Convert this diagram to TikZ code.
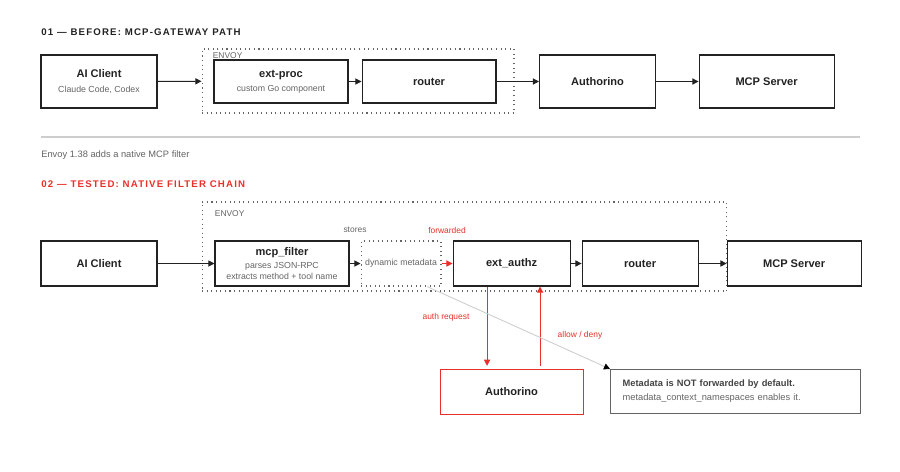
\documentclass[tikz,border=0pt]{standalone}
\usepackage{fontspec}
\setmainfont{Liberation Sans}
\newfontfamily\spacedfont[LetterSpace=12]{Liberation Sans}
\usetikzlibrary{positioning,arrows.meta}
\definecolor{inkdark}{RGB}{34,34,34}
\definecolor{inkgray}{RGB}{100,100,100}
\definecolor{accentred}{RGB}{232,48,42}
\definecolor{ruleg}{RGB}{205,205,205}

\begin{document}
\begin{tikzpicture}[
    x=0.02cm, y=-0.02cm,
    >={Triangle[length=3.5pt,width=3.5pt]},
    every node/.style={font=\fontsize{5}{7}\selectfont, text=inkdark},
    box/.style={
        rectangle, draw=inkdark, line width=0.6pt, align=center, inner sep=2pt
    },
    heading/.style={anchor=west, inner sep=0pt, font=\spacedfont\bfseries\fontsize{5.5}{6.5}\selectfont},
    envoy/.style={rectangle, draw=inkgray, dotted, line width=0.6pt},
    lbl/.style={font=\fontsize{4.8}{6}\selectfont, text=inkgray},
    flow/.style={->, draw=inkdark, line width=0.6pt}
]
\useasboundingbox (0,0) rectangle (900,471);

% --- 01: before
\node[heading] (head1) at (41,32) {01 — BEFORE: MCP-GATEWAY PATH};

\node[envoy, minimum width=6.24cm, minimum height=1.28cm] (envoyA) at (358,81) {};
\node[lbl, anchor=north west, inner sep=0pt] (envoyAlbl) at ([xshift=0.22cm, yshift=-0.07cm]envoyA.north west) {ENVOY};

\node[box, minimum width=2.32cm, minimum height=1.06cm] (aiA) at (99,81.5) {
    \textbf{\fontsize{6.3}{7}\selectfont AI Client}\\[1.5pt]
    {\color{inkgray}Claude Code, Codex}
};
\node[box, minimum width=2.68cm, minimum height=0.86cm] (extproc) at (281,81.5) {
    \textbf{\fontsize{6.3}{7}\selectfont ext-proc}\\[1pt]
    {\color{inkgray}custom Go component}
};
\node[box, minimum width=2.68cm, minimum height=0.86cm, right=0.26cm of extproc] (routerA) {\textbf{\fontsize{6.3}{7}\selectfont router}};
\node[box, minimum width=2.32cm, minimum height=1.06cm, right=0.85cm of routerA] (authA) {\textbf{\fontsize{6.3}{7}\selectfont Authorino}};
\node[box, minimum width=2.7cm, minimum height=1.06cm, right=0.85cm of authA] (mcpA) {\textbf{\fontsize{6.3}{7}\selectfont MCP Server}};

\draw[flow] (aiA) -- (envoyA);
\draw[flow] (extproc) -- (routerA);
\draw[flow] (routerA) -- (authA);
\draw[flow] (authA) -- (mcpA);

\draw[ruleg, line width=0.6pt] (41,137) -- (860,137);
\node[lbl, font=\fontsize{5.3}{6.5}\selectfont, anchor=west, inner sep=0pt] (sepnote) at (41,155) {Envoy 1.38 adds a native MCP filter};

% --- 02: tested
\node[heading, text=accentred] (head2) at (41,184) {02 — TESTED: NATIVE FILTER CHAIN};

\node[envoy, minimum width=10.5cm, minimum height=1.78cm] (envoyB) at (464.5,246.5) {};
\node[lbl, anchor=north west, inner sep=0pt] (envoyBlbl) at ([xshift=0.26cm, yshift=-0.17cm]envoyB.north west) {ENVOY};

\node[box, minimum width=2.32cm, minimum height=0.9cm] (aiB) at (99,263.5) {\textbf{\fontsize{6.3}{7}\selectfont AI Client}};
\node[box, minimum width=2.68cm, minimum height=0.9cm] (mcpfilter) at (282,263.5) {
    \textbf{\fontsize{6.3}{7}\selectfont mcp\_filter}\\[0.5pt]
    {\color{inkgray}parses JSON-RPC}\\[-0.8pt]
    {\color{inkgray}extracts method + tool name}
};
\node[box, draw=inkgray, dotted, minimum width=1.6cm, minimum height=0.9cm, right=0.22cm of mcpfilter] (meta) {{\color{inkgray}dynamic metadata}};
\node[box, minimum width=2.34cm, minimum height=0.9cm, right=0.22cm of meta] (authz) {\textbf{\fontsize{6.3}{7}\selectfont ext\_authz}};
\node[box, minimum width=2.32cm, minimum height=0.9cm, right=0.22cm of authz] (routerB) {\textbf{\fontsize{6.3}{7}\selectfont router}};
\node[box, minimum width=2.68cm, minimum height=0.9cm, right=0.56cm of routerB] (mcpB) {\textbf{\fontsize{6.3}{7}\selectfont MCP Server}};

\node[box, draw=accentred, minimum width=2.86cm, minimum height=0.9cm, below=1.64cm of authz] (authB) {\textbf{\fontsize{6.3}{7}\selectfont Authorino}};
\node[box, draw=inkgray, align=left, text width=4.52cm, inner xsep=0.24cm, minimum height=0.88cm, right=0.53cm of authB,
      font=\fontsize{5.3}{7}\selectfont] (note) {
    {\color{inkdark!85}\textbf{Metadata is NOT forwarded by default.}}\\[1pt]
    {\color{inkgray}metadata\_context\_namespaces enables it.}
};

\node[lbl] (storesLbl) at (355,230) {stores};
\node[lbl, text=accentred] (fwdLbl) at (447,230) {forwarded};

\draw[flow] (aiB) -- (mcpfilter);
\draw[flow] (mcpfilter) -- (meta);
\draw[flow, draw=accentred] (meta) -- (authz);
\draw[flow] (authz) -- (routerB);
\draw[flow] (routerB) -- (mcpB);

\coordinate (reqTop) at ([xshift=-0.49cm]authz.south);
\coordinate (denyTop) at ([xshift=0.57cm]authz.south);
\draw[flow, draw=accentred, shorten >=1.5pt] (reqTop) -- (reqTop |- authB.north);
\draw[flow, draw=accentred, shorten <=1.5pt] (denyTop |- authB.north) -- (denyTop);
\node[lbl, text=accentred] (reqLbl) at (446,317) {auth request};
\node[lbl, text=accentred] (denyLbl) at (580,335) {allow / deny};

\draw[ruleg, line width=0.5pt, -{Triangle[length=3.5pt,width=3.5pt,color=black]}] ([xshift=0.52cm]meta.south) -- (note.north west);

\end{tikzpicture}
\end{document}
